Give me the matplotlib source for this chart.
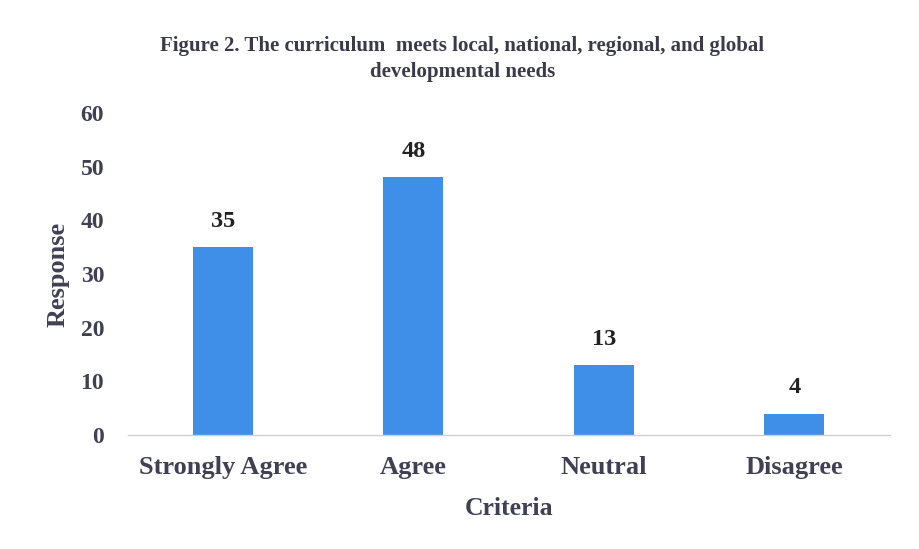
import matplotlib
matplotlib.use("Agg")
import matplotlib.pyplot as plt

categories = ["Strongly Agree", "Agree", "Neutral", "Disagree"]
responses = [35, 48, 13, 4]
yticks = [0, 10, 20, 30, 40, 50, 60]
title = "Figure 2. The curriculum  meets local, national, regional, and global\ndevelopmental needs"

plt.rcParams['font.family'] = ['Liberation Serif', 'DejaVu Serif']

fig = plt.figure(figsize=(9.19, 5.49), dpi=100)
ax = fig.add_axes([0.139, 0.2077, 0.829, 0.5865])

bar_color = "#3F8FE8"
text_color = "#404055"
x = list(range(len(categories)))
bars = ax.bar(x, responses, width=0.315, color=bar_color)

for xi, v in zip(x, responses):
    ax.annotate(str(v), (xi, v), xytext=(0, 11), textcoords="offset points",
                ha="center", va="bottom", fontsize=17.5, fontweight="bold", color="#222222")

ax.set_xlim(-0.5, len(categories) - 0.5)
ax.set_ylim(0, 60)
ax.set_yticks(yticks)
ax.set_yticklabels([str(t) for t in yticks], fontsize=17, fontweight="bold", color=text_color)
ax.set_xticks(x)
ax.set_xticklabels(categories, fontsize=19, fontweight="bold", color=text_color)
ax.tick_params(axis="both", length=0)
ax.tick_params(axis="y", pad=17)
ax.tick_params(axis="x", pad=15)

for s in ["top", "right", "left"]:
    ax.spines[s].set_visible(False)
ax.spines["bottom"].set_color("#d0d0d0")
ax.spines["bottom"].set_linewidth(1.0)

ax.set_ylabel("Response", fontsize=19, fontweight="bold", color=text_color, labelpad=8)
ax.set_xlabel("Criteria", fontsize=18.5, fontweight="bold", color=text_color, labelpad=13)

fig.text(0.503, 0.893, title, ha="center", va="center", fontsize=15, fontweight="bold",
         color="#3a3a4a", linespacing=1.4)

fig.savefig("out.png", dpi=100)
